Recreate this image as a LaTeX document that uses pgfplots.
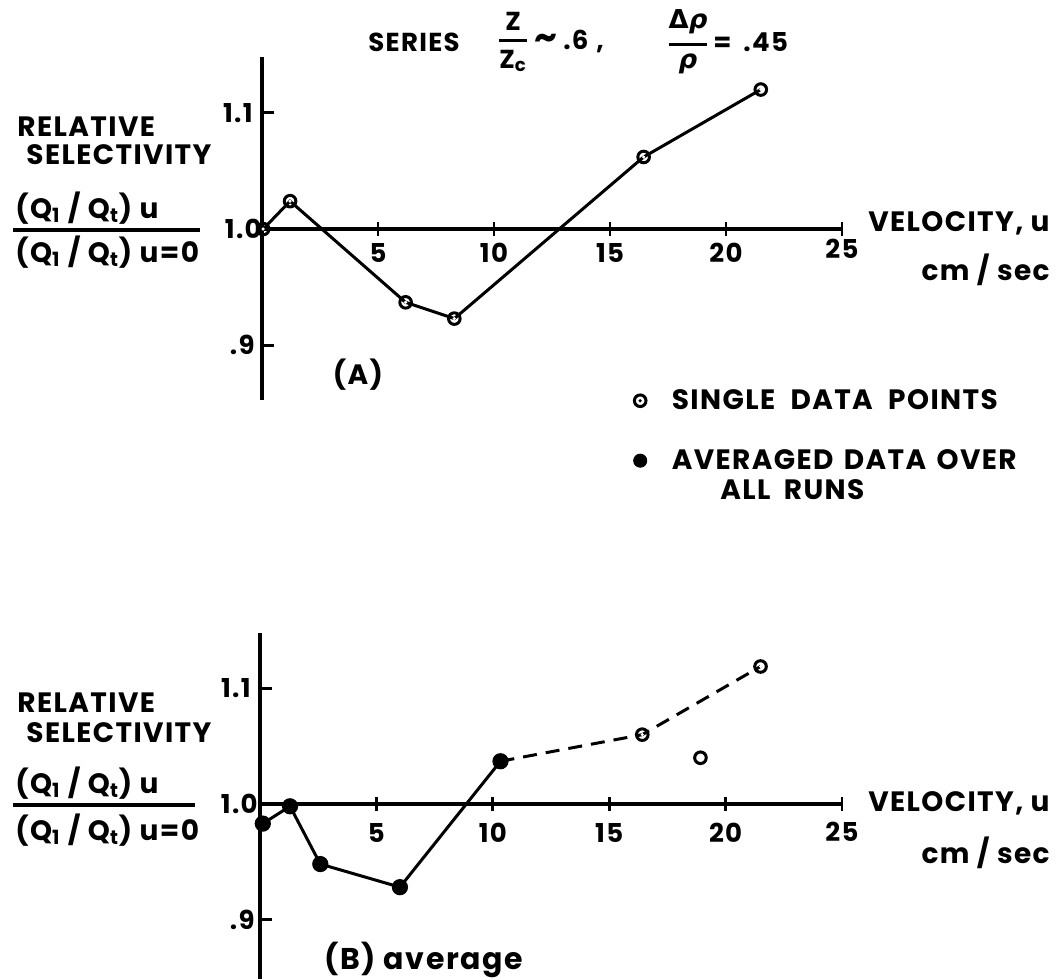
\documentclass[border=0pt]{standalone}
\usepackage{fontspec}
\setmainfont{Poppins}[LetterSpace=5]
\newfontfamily\dv{DejaVu Sans}
\usepackage{pgfplots}
\pgfplotsset{compat=1.18}
\pgfdeclareplotmark{odot}{%
  \pgfpathcircle{\pgfpointorigin}{\pgfplotmarksize}\pgfusepathqstroke
  \pgfpathcircle{\pgfpointorigin}{0.3\pgfplotmarksize}\pgfusepathqfill}
\newcommand\Qt{(Q\textsubscript{1} / Q\textsubscript{t})}
\newcommand\lab{\fontsize{14}{16}\selectfont\bfseries}
\newcommand\tck{\fontsize{13}{15}\selectfont\bfseries}

% Panel A: single data points
\pgfplotstableread{
x y
0.05 1.000
1.21 1.024
6.19 0.937
8.29 0.923
16.45 1.062
21.50 1.120
}\dataA
% Panel B: averaged data
\pgfplotstableread{
x y
0.12 0.983
1.29 0.998
2.59 0.948
6.01 0.928
10.33 1.037
}\dataBavg
\pgfplotstableread{
x y
10.33 1.037
16.42 1.060
21.50 1.119
}\dataBdash
\pgfplotstableread{
x y
16.42 1.060
18.92 1.040
21.50 1.119
}\dataBsingle

\begin{document}
\begin{tikzpicture}[font=\lab]
\useasboundingbox (0,0) rectangle (529pt,489.5pt);

% ---------------- Panel A ----------------
\begin{axis}[at={(131pt,289.5pt)}, anchor=south west, scale only axis,
  width=290pt, height=171.5pt, xmin=0, xmax=25, ymin=0.853, ymax=1.148,
  hide axis, clip=false,
  legend style={draw=none, fill=none, at={(axis cs:16.0,0.866)}, anchor=north west,
    row sep=14.5pt, column sep=10.5pt, inner sep=0pt, font=\lab, cells={anchor=west}},
  legend image code/.code={\draw[mark repeat=2,mark phase=2] plot coordinates {(0cm,0cm) (0.3cm,0cm) (0.6cm,0cm)};}]
  \draw[line width=2.3pt] (axis cs:0,0.853) -- (axis cs:0,1.148);
  \draw[line width=2.3pt] (axis cs:0,1) -- (axis cs:25,1);
  \pgfplotsinvokeforeach{5,10,15,20}{
    \draw[line width=1.4pt] ([yshift=-3.3pt]axis cs:#1,1) -- ([yshift=3.3pt]axis cs:#1,1);
    \node[font=\tck] at ([yshift=-12pt]axis cs:#1,1) {#1};}
  \draw[line width=1.4pt] ([yshift=-3.5pt]axis cs:25,1) -- ([yshift=3.5pt]axis cs:25,1);
  \node[font=\tck] at ([yshift=-10pt]axis cs:25,1) {25};
  \draw[line width=1.4pt] (axis cs:0,1.1) -- ([xshift=6pt]axis cs:0,1.1);
  \draw[line width=1.4pt] (axis cs:0,0.9) -- ([xshift=6pt]axis cs:0,0.9);
  \node[font=\tck, anchor=east, inner sep=0pt] at ([xshift=-4.5pt]axis cs:0,1.1) {1.1};
  \node[font=\tck, anchor=east, inner sep=0pt] at ([xshift=0pt]axis cs:0,1.0) {1.0};
  \node[font=\tck, anchor=east, inner sep=0pt] at ([xshift=-3.5pt]axis cs:0,0.9) {.9};

  \addplot[forget plot, line width=1.5pt, mark=odot, mark size=2.9pt, mark options={solid, fill=white}] table {\dataA};

  \addlegendimage{only marks, mark=odot, mark size=2.9pt, line width=1.5pt}
  \addlegendentry{SINGLE\hspace{4pt} DATA\hspace{4pt} POINTS}
  \addlegendimage{only marks, mark=*, mark size=3.3pt}
  \addlegendentry{AVERAGED\hspace{1.5pt} DATA\hspace{1.5pt} OVER}
\end{axis}

% ---------------- Panel B ----------------
\begin{axis}[at={(130pt,0pt)}, anchor=south west, scale only axis,
  width=291pt, height=173pt, xmin=0, xmax=25, ymin=0.8485, ymax=1.148,
  hide axis, clip=false]
  \draw[line width=2.3pt] (axis cs:0,0.8485) -- (axis cs:0,1.148);
  \draw[line width=2.3pt] (axis cs:0,1) -- (axis cs:25,1);
  \pgfplotsinvokeforeach{5,10,15,20}{
    \draw[line width=1.4pt] ([yshift=-3.3pt]axis cs:#1,1) -- ([yshift=3.3pt]axis cs:#1,1);
    \node[font=\tck] at ([yshift=-14.5pt]axis cs:#1,1) {#1};}
  \draw[line width=1.4pt] ([yshift=-3.5pt]axis cs:25,1) -- ([yshift=3.5pt]axis cs:25,1);
  \node[font=\tck] at ([yshift=-14pt]axis cs:25,1) {25};
  \draw[line width=1.4pt] (axis cs:0,1.1) -- ([xshift=6pt]axis cs:0,1.1);
  \draw[line width=1.4pt] (axis cs:0,0.9) -- ([xshift=6pt]axis cs:0,0.9);
  \node[font=\tck, anchor=east, inner sep=0pt] at ([xshift=-4.5pt]axis cs:0,1.1) {1.1};
  \node[font=\tck, anchor=east, inner sep=0pt] at ([xshift=-1pt]axis cs:0,1.0) {1.0};
  \node[font=\tck, anchor=east, inner sep=0pt] at ([xshift=-2.5pt]axis cs:0,0.9) {.9};

  \addplot[line width=1.5pt, mark=*, mark size=3.3pt] table {\dataBavg};
  \addplot[line width=1.5pt, dash pattern=on 7pt off 4.5pt, no marks] table {\dataBdash};
  \addplot[only marks, line width=1.5pt, mark=odot, mark size=2.9pt, mark options={solid, fill=white}] table {\dataBsingle};
\end{axis}

% ---------------- Texts (pixel frame) ----------------
\begin{scope}[x=0.5pt, y=-0.5pt, yshift=489.5pt, every node/.style={inner sep=0pt}]
  % title
  \begin{scope}[font=\fontsize{13}{15}\selectfont\bfseries]
    \node[anchor=west] at (368,42) {SERIES};
    \node at (513,42) {$\displaystyle{\mbox{Z}\above 1.4pt \mbox{Z\textsubscript{c}}}$};
    \node[anchor=west] at (534,42) {{\fontsize{18}{18}\selectfont\textasciitilde}\hspace{3pt}.6\hspace{4pt},};
    \node at (688,42) {$\displaystyle{\mbox{\dv\bfseries Δ\itshape ρ}\above 1.4pt \mbox{\dv\bfseries\itshape ρ}}$};
    \node[anchor=west] at (713,42) {=\hspace{6pt}.45};
  \end{scope}
  % panel A labels
  \node[anchor=west] at (17,127) {RELATIVE};
  \node[anchor=west] at (26,155) {SELECTIVITY};
  \node[anchor=west] at (15,208) {\Qt\ u};
  \draw[line width=1.6pt] (13,230) -- (200,230);
  \node[anchor=west] at (15,252) {\Qt\ u=0};
  \node[anchor=east] at (1050,223) {VELOCITY, u};
  \node[anchor=east] at (1050,270) {cm / sec};
  \node at (358,375) {(A)};
  \node[anchor=west] at (720,490) {ALL\hspace{3pt} RUNS};
  % panel B labels
  \node[anchor=west] at (17,703) {RELATIVE};
  \node[anchor=west] at (26,733) {SELECTIVITY};
  \node[anchor=west] at (15,783) {\Qt\ u};
  \draw[line width=1.6pt] (13,805) -- (195,805);
  \node[anchor=west] at (15,830) {\Qt\ u=0};
  \node[anchor=east] at (1050,803) {VELOCITY, u};
  \node[anchor=east] at (1050,853) {cm / sec};
  \node[anchor=east, font=\fontsize{15}{17}\selectfont\bfseries] at (523,960) {(B) average};
\end{scope}
\end{tikzpicture}
\end{document}
